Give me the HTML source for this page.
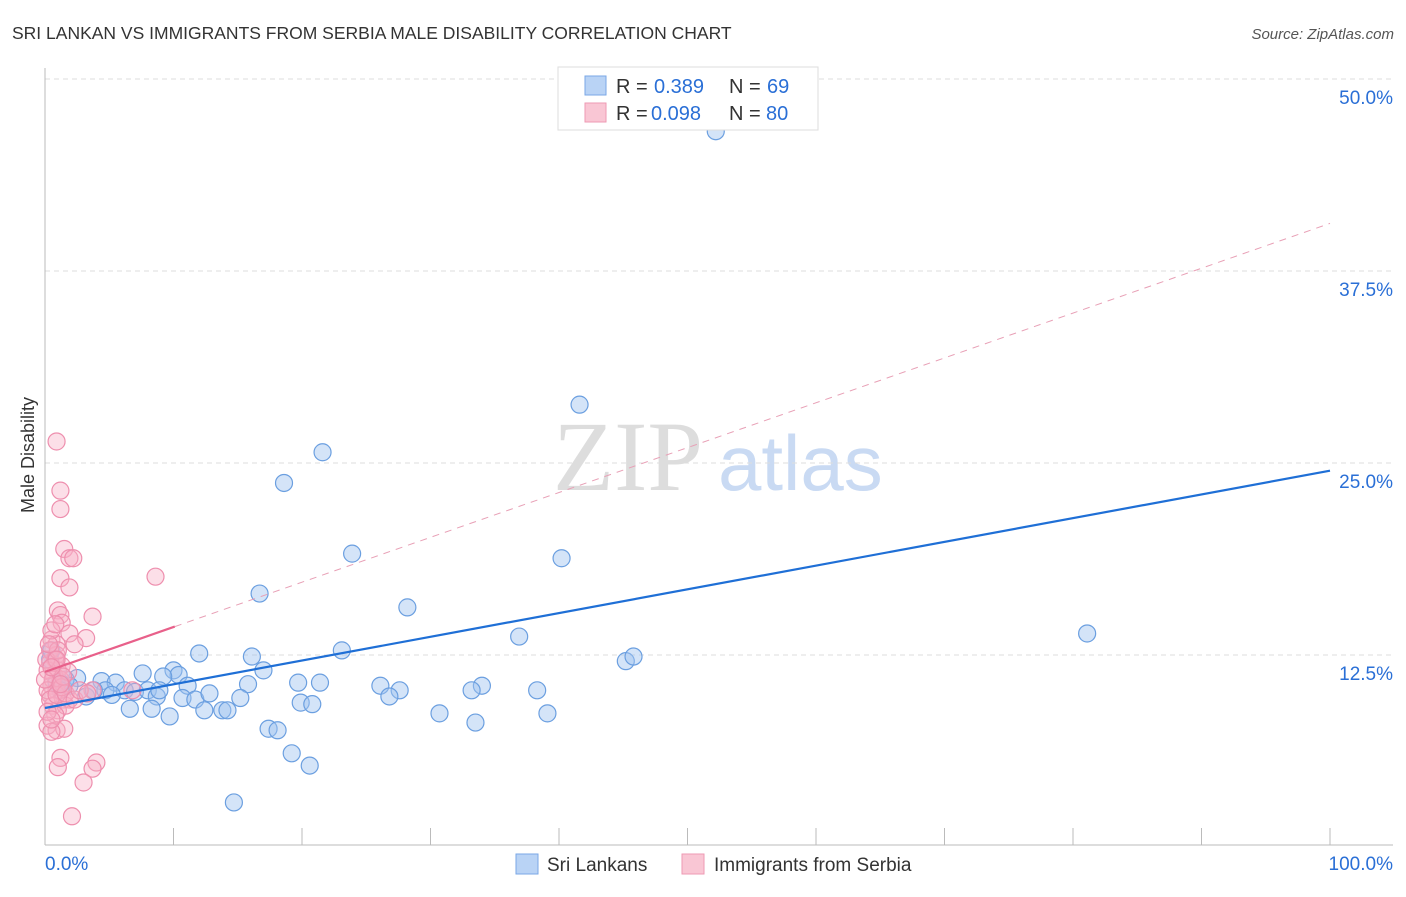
<!DOCTYPE html>
<html><head><meta charset="utf-8"><style>
body{margin:0;background:#fff;font-family:"Liberation Sans",sans-serif}
</style></head><body>
<svg id="chart" width="1406" height="892" xmlns="http://www.w3.org/2000/svg">
<text x="12" y="39" font-size="17.5" fill="#333">SRI LANKAN VS IMMIGRANTS FROM SERBIA MALE DISABILITY CORRELATION CHART</text>
<text x="1394" y="39" font-size="15" fill="#555" font-style="italic" text-anchor="end">Source: ZipAtlas.com</text>
<text x="553" y="490" font-size="100" fill="#ddd" font-family="Liberation Serif,serif">ZIP</text>
<text x="718" y="490" font-size="78" fill="#c9daf3">atlas</text>
<text transform="translate(34,455) rotate(-90)" font-size="18" fill="#333" text-anchor="middle">Male Disability</text>
<g id="grid"></g><g id="marks"></g>
<g>
<rect x="558" y="67" width="260" height="63" fill="#fff" stroke="#ddd"/>
<rect x="585" y="76" width="21" height="19" fill="#b9d3f5" stroke="#7aa7e6"/>
<rect x="585" y="103" width="21" height="19" fill="#f9c6d4" stroke="#ee9ab3"/>
<text x="616" y="93" font-size="20" fill="#333">R =</text>
<text x="654" y="93" font-size="20" fill="#2a6fd6">0.389</text>
<text x="729" y="93" font-size="20" fill="#333">N =</text>
<text x="767" y="93" font-size="20" fill="#2a6fd6">69</text>
<text x="616" y="120" font-size="20" fill="#333">R =</text>
<text x="651" y="120" font-size="20" fill="#2a6fd6">0.098</text>
<text x="729" y="120" font-size="20" fill="#333">N =</text>
<text x="766" y="120" font-size="20" fill="#2a6fd6">80</text>
</g>
<g>
<rect x="516" y="854" width="22" height="20" fill="#b9d3f5" stroke="#7aa7e6"/>
<text x="547" y="871" font-size="19" fill="#333">Sri Lankans</text>
<rect x="682" y="854" width="22" height="20" fill="#f9c6d4" stroke="#ee9ab3"/>
<text x="714" y="871" font-size="19" fill="#333">Immigrants from Serbia</text>
</g>
<text x="45" y="870" font-size="19" fill="#2a6fd6">0.0%</text>
<text x="1393" y="870" font-size="19" fill="#2a6fd6" text-anchor="end">100.0%</text>
</svg>
<script>
const yTicks=[12.5,25,37.5,50];
const yTickLabels=["12.5%","25.0%","37.5%","50.0%"];
const blueX=[52.2,41.6,21.6,18.6,23.9,40.2,16.7,28.2,81.1,36.9,23.1,45.2,45.8,12.0,16.1,7.6,10.0,10.4,17.0,9.2,11.1,19.7,21.4,15.8,26.1,27.6,34.0,33.2,38.3,4.4,2.5,5.5,4.7,6.2,7.0,8.0,8.7,10.7,11.7,12.8,15.2,3.2,3.8,1.6,1.9,0.9,6.6,8.3,9.7,12.4,13.8,14.2,19.9,20.8,26.8,30.7,33.5,39.1,17.4,18.1,19.2,20.6,14.7,1.2,0.4,0.5,5.2,8.9,1.2];
const blueY=[46.6,28.8,25.7,23.7,19.1,18.8,16.5,15.6,13.9,13.7,12.8,12.1,12.4,12.6,12.4,11.3,11.5,11.2,11.5,11.1,10.5,10.7,10.7,10.6,10.5,10.2,10.5,10.2,10.2,10.8,11.0,10.7,10.2,10.2,10.1,10.2,9.8,9.7,9.6,10.0,9.7,9.8,10.2,10.9,10.5,10.7,9.0,9.0,8.5,8.9,8.9,8.9,9.4,9.3,9.8,8.7,8.1,8.7,7.7,7.6,6.1,5.3,2.9,10.7,12.2,12.8,9.9,10.2,10.2];
const pinkX=[0.9,1.2,1.2,1.5,1.9,2.2,1.2,8.6,1.9,1.0,1.2,3.7,1.3,1.9,3.2,0.5,0.9,2.3,0.9,1.3,1.0,0.4,0.7,1.2,0.5,0.9,0.4,1.4,1.9,0.6,1.0,1.6,0.8,6.8,3.7,0.2,0.9,1.5,0.5,1.2,1.0,4.0,3.7,3.0,2.1,0.4,0.8,0.2,0.6,0.2,0.4,0.9,1.3,0.2,0.5,0.0,0.1,1.6,1.0,2.3,2.7,3.3,1.8,0.5,0.8,1.4,0.3,0.9,0.5,1.2];
const pinkY=[26.4,23.2,22.0,19.4,18.8,18.8,17.5,17.6,16.9,15.4,15.1,15.0,14.6,13.9,13.6,13.5,13.2,13.2,12.5,11.8,11.5,12.0,11.2,10.9,10.5,10.2,9.9,9.6,9.6,9.2,8.9,9.2,8.6,10.2,10.2,7.9,7.6,7.7,7.5,5.8,5.2,5.5,5.1,4.2,2.0,12.8,12.2,11.5,10.9,10.2,9.6,9.9,10.4,8.8,8.3,10.9,12.2,10.0,12.8,9.6,10.2,10.0,11.4,14.1,14.5,11.1,13.2,12.2,11.7,10.6];
const blueTrend=[9.05,24.5];
const pinkTrend=[11.4,40.6];
const pinkSolidEnd=10.1;
const NS='http://www.w3.org/2000/svg';
const X=v=>45+v*12.85, Y=v=>847-v*15.36;
function mk(tag,attrs,parent){const e=document.createElementNS(NS,tag);for(const k in attrs)e.setAttribute(k,attrs[k]);parent.appendChild(e);return e;}
const grid=document.getElementById('grid'),marks=document.getElementById('marks');
yTicks.forEach((t,i)=>{
 const l=mk('line',{x1:45,x2:1393,y1:Y(t),y2:Y(t),stroke:'#ddd','stroke-dasharray':'5,4'},grid);
 
 
 const tx=mk('text',{x:1393,y:Y(t)+25,'font-size':19,fill:'#2a6fd6','text-anchor':'end'},grid);
 tx.textContent=yTickLabels[i];
 
 
});
const ax=mk('line',{x1:45,x2:1393,y1:845,y2:845,stroke:'#bbb'},grid);


const ay=mk('line',{x1:45,x2:45,y1:68,y2:845,stroke:'#bbb'},grid);


for(let i=0;i<=10;i++){const t=mk('line',{x1:X(i*10),x2:X(i*10),y1:828,y2:845,stroke:'#bbb'},grid);
 
 }
blueX.forEach((x,i)=>{const c=mk('circle',{cx:X(x),cy:Y(blueY[i]),r:8.5,fill:'rgba(160,196,240,0.45)',stroke:'#6b9fe0','stroke-width':1.2},marks);
 
 });
pinkX.forEach((x,i)=>{const c=mk('circle',{cx:X(x),cy:Y(pinkY[i]),r:8.5,fill:'rgba(247,176,198,0.4)',stroke:'#ee8fae','stroke-width':1.2},marks);
 
 });
const pAt=x=>pinkTrend[0]+(pinkTrend[1]-pinkTrend[0])*x/100;
const pd=mk('line',{x1:X(pinkSolidEnd),y1:Y(pAt(pinkSolidEnd)),x2:X(100),y2:Y(pinkTrend[1]),stroke:'#e8a0b6','stroke-dasharray':'7,6','stroke-width':1},marks);


const bt=mk('line',{x1:X(0),y1:Y(blueTrend[0]),x2:X(100),y2:Y(blueTrend[1]),stroke:'#1f6fd6','stroke-width':2.2},marks);


const ps=mk('line',{x1:X(0),y1:Y(pinkTrend[0]),x2:X(pinkSolidEnd),y2:Y(pAt(pinkSolidEnd)),stroke:'#e8608a','stroke-width':2.2},marks);


</script>
</body></html>
